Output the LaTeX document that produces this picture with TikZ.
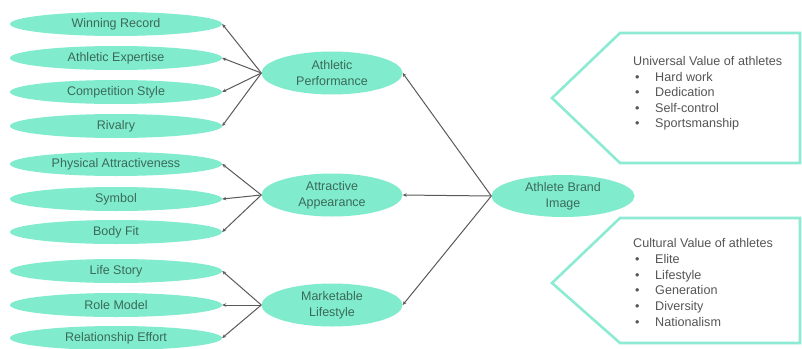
\documentclass[tikz,border=0pt]{standalone}
\usepackage{fontspec}
\setmainfont{Liberation Sans}
\usetikzlibrary{arrows.meta,shapes.geometric}
\definecolor{mint}{HTML}{80ECCD}
\definecolor{mintline}{HTML}{8CEBD2}
\definecolor{ovaltext}{HTML}{3A6A58}
\definecolor{boxtext}{HTML}{555555}
\definecolor{linkgray}{HTML}{5A5A5A}
\begin{document}
\begin{tikzpicture}[x=1pt,y=-1pt,
  leafoval/.style={ellipse,fill=mint,draw=none,minimum width=212pt,minimum height=24pt,inner sep=0pt,
    font=\fontsize{12.5}{15}\selectfont,text=ovaltext},
  midoval/.style={ellipse,fill=mint,draw=none,minimum width=141pt,minimum height=43pt,inner sep=0pt,
    font=\fontsize{12.5}{16}\selectfont,text=ovaltext,align=center},
  link/.style={draw=linkgray,line width=1pt,-{Stealth[length=4pt,width=3.5pt]}},
  tagbox/.style={draw=mintline,line width=2.6pt,line join=miter},
  boxline/.style={anchor=base west,inner sep=0pt,font=\fontsize{12.6}{15}\selectfont,text=boxtext}
]
\useasboundingbox (0,0) rectangle (802,348);
\fill[white] (0,0) rectangle (802,348);

% leaf ovals
\node[leafoval] (wr) at (116,24) {Winning Record};
\node[leafoval] (ae) at (116,58) {Athletic Expertise};
\node[leafoval] (cs) at (116,92) {Competition Style};
\node[leafoval] (rv) at (116,126) {Rivalry};
\node[leafoval] (pa) at (116,164) {Physical Attractiveness};
\node[leafoval] (sy) at (116,199) {Symbol};
\node[leafoval] (bf) at (116,232) {Body Fit};
\node[leafoval] (ls) at (116,271) {Life Story};
\node[leafoval] (rm) at (116,305) {Role Model};
\node[leafoval] (re) at (116,338) {Relationship Effort};

% middle ovals
\node[midoval] (ap) at (332,73) {Athletic\\Performance};
\node[midoval] (aa) at (332,195) {Attractive\\Appearance};
\node[midoval] (ml) at (332,305) {Marketable\\Lifestyle};

% brand oval
\node[midoval,minimum width=143pt,minimum height=42pt] (abi) at (563,196) {Athlete Brand\\Image};

% connectors
\foreach \t in {ap,aa,ml} \draw[link] (abi.west) -- (\t.east);
\foreach \t in {wr,ae,cs,rv} \draw[link] (ap.west) -- (\t.east);
\foreach \t in {pa,sy,bf} \draw[link] (aa.west) -- (\t.east);
\foreach \t in {ls,rm,re} \draw[link] (ml.west) -- (\t.east);

% tag boxes
\draw[tagbox] (552,98) -- (620,33) -- (800,33) -- (800,163) -- (620,163) -- cycle;
\draw[tagbox] (552,283) -- (620,218) -- (800,218) -- (800,343) -- (620,343) -- cycle;

% top box text
\node[boxline] (uh) at (633,65.5) {Universal Value of athletes};
\foreach \i/\s in {1/Hard work,2/Dedication,3/Self-control,4/Sportsmanship}{
  \node[boxline] (ub\i) at (635,65.5+15.6*\i) {•};
  \node[boxline] (ut\i) at (655,65.5+15.6*\i) {\s};
}

% bottom box text
\node[boxline] (ch) at (633,247.5) {Cultural Value of athletes};
\foreach \i/\s in {1/Elite,2/Lifestyle,3/Generation,4/Diversity,5/Nationalism}{
  \node[boxline] (cb\i) at (635,247.5+15.8*\i) {•};
  \node[boxline] (ct\i) at (655,247.5+15.8*\i) {\s};
}
\end{tikzpicture}
\end{document}
